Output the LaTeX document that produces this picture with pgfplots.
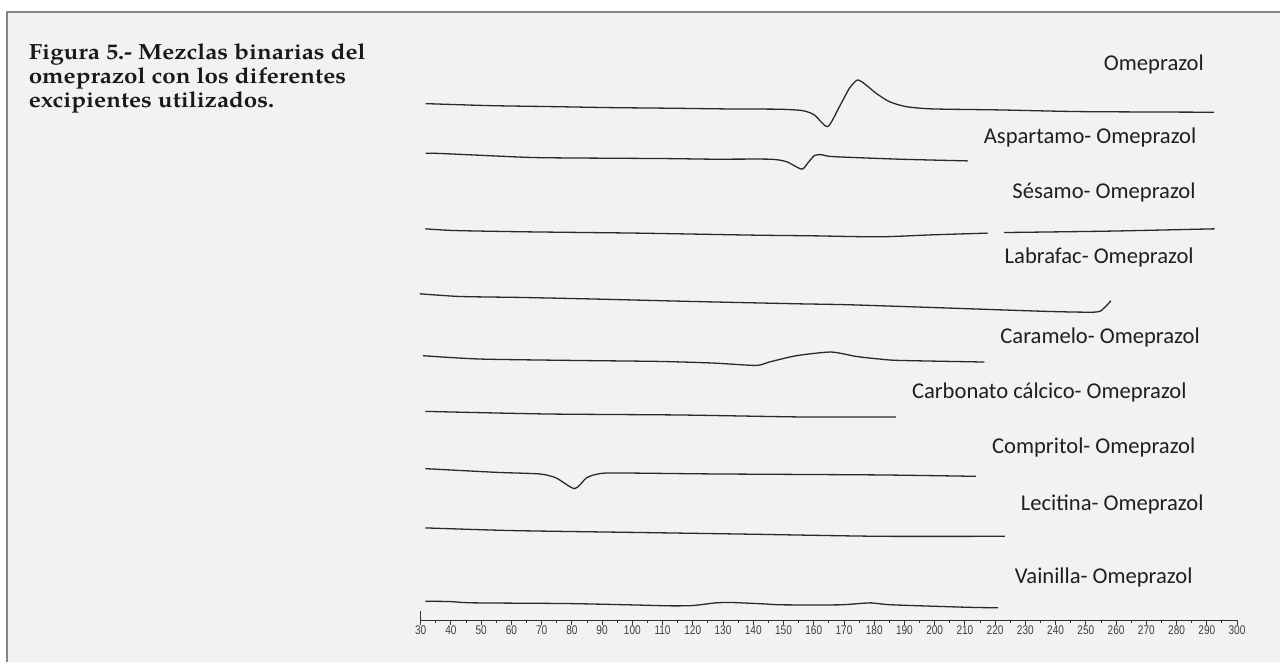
\documentclass[border=0pt]{standalone}
\usepackage{fontspec}
\usepackage{pgfplots}
\pgfplotsset{compat=1.18}
\setmainfont{Carlito}
\newfontfamily\titlefont[FakeStretch=1.1]{texgyrepagella-bold.otf}
\newfontfamily\tickfont[FakeStretch=0.8]{Liberation Sans}
\definecolor{framebg}{HTML}{F1F2F4}
\definecolor{framegray}{HTML}{858585}
\definecolor{curve}{HTML}{2A2A2A}
\tikzset{lbl/.style={anchor=base, font=\fontsize{11.3}{13}\selectfont, text=black!88},
         ttl/.style={anchor=base west, inner sep=0pt, font=\titlefont\fontsize{11}{13}\selectfont, text=black!90}}
\pgfplotsset{trace/.style={curve, solid, line width=0.65pt, no markers, smooth, tension=0.4, line join=round}}

\begin{document}
\begin{tikzpicture}
% 1 px of the reference = 0.5pt, y counted down from the top edge
\fill[white] (0,0) rectangle (640.5pt,-331.5pt);
\fill[framebg] (3.5pt,-6pt) rectangle (640.5pt,-331.5pt);
\draw[framegray, line width=1pt] (3.5pt,-331.5pt) -- (3.5pt,-6pt) -- (640.5pt,-6pt);
\node[ttl] at (14.2pt,-29.8pt) {Figura 5.- Mezclas binarias del};
\node[ttl] at (14.2pt,-41.8pt) {omeprazol con los diferentes};
\node[ttl] at (14.2pt,-53.8pt) {excipientes utilizados.};

% curves: x = temperature, y = trace height (px from top of the figure)
\begin{axis}[at={(0pt,-331.5pt)}, anchor=south west, scale only axis,
    width=640.5pt, height=331.5pt,
    xmin=-109.13, xmax=314.21, ymin=0, ymax=663, y dir=reverse,
    hide axis, clip=false]

% Omeprazol
\addplot[trace] coordinates {(31.65,103.7) (52.8,105.7) (73.7,106.7) (93.0,107.7) (112.9,108.3) (131.0,109) (148.6,109.3) (156.3,110.7) (160.2,115) (164.6,126.7) (168.5,106.7) (171.8,88.3) (174.5,80) (177.3,85) (180.6,93.3) (185.0,101.7) (190.5,106.7) (199.3,109) (221.4,110) (248.9,111.7) (292.4,112.3)};
% Aspartamo
\addplot[trace] coordinates {(31.65,153.3) (37.4,153.7) (63.8,157.3) (75.9,158) (111.2,158.7) (126.6,159.3) (145.3,159.3) (150.9,161.7) (156.0,169.3) (158.0,163.3) (160.2,155.7) (162.4,154.7) (166.3,156.7) (188.3,159.3) (210.9,161)};
% Sesamo (two segments)
\addplot[trace] coordinates {(31.55,229) (41.2,230.7) (64.9,232) (101.8,233.3) (139.8,235.3) (159.7,236) (181.7,237) (199.3,235) (217.5,233.3)};
\addplot[trace] coordinates {(223.0,232.7) (257.7,231.3) (292.6,229)};
% Labrafac
\addplot[trace] coordinates {(29.7,294) (42.9,296.7) (63.8,297.7) (88.1,299.3) (120.0,301.7) (154.2,304) (171.8,305) (204.8,308.3) (237.9,311.7) (253.3,312.3) (256.0,308.3) (258.3,301)};
% Caramelo
\addplot[trace] coordinates {(30.8,356) (49.5,359.3) (80.3,360.7) (109.0,361.7) (126.6,363.3) (140.9,365.7) (145.3,362.3) (154.2,356) (165.7,352.3) (174.0,356.7) (181.7,359.3) (188.3,360.7) (216.4,362.3)};
% Carbonato calcico
\addplot[trace] coordinates {(31.55,411.7) (71.5,414.3) (115.6,415.3) (156.4,417.3) (187.2,417.3)};
% Compritol
\addplot[trace] coordinates {(31.55,469) (55.0,472.7) (69.3,474.3) (74.8,478.3) (80.9,489) (84.8,478.3) (88.1,474.7) (93.6,473.3) (126.6,474.3) (181.7,475.3) (213.6,476.7)};
% Lecitina
\addplot[trace] coordinates {(31.55,528.3) (60.5,531) (104.6,533) (140.9,534.7) (181.7,536.7) (223.2,536.7)};
% Vainilla
\addplot[trace] coordinates {(31.55,601.7) (39.6,602) (47.3,603.3) (78.2,604) (99.1,605.3) (112.3,606.3) (120.0,606) (127.7,603.3) (133.2,603) (143.1,604.3) (149.8,605.3) (168.5,605.3) (176.2,603.7) (178.9,603.3) (186.1,605.3) (210.3,607.7) (221.0,608.3)};

\node[lbl] at (axis cs:272.5,70.7) {Omeprazol};
\node[lbl] at (axis cs:251.4,143.7) {Aspartamo- Omeprazol};
\node[lbl] at (axis cs:256.0,198.5) {Sésamo- Omeprazol};
\node[lbl] at (axis cs:254.4,263.3) {Labrafac- Omeprazol};
\node[lbl] at (axis cs:254.7,343.3) {Caramelo- Omeprazol};
\node[lbl] at (axis cs:237.9,399) {Carbonato cálcico- Omeprazol};
\node[lbl] at (axis cs:252.6,454.3) {Compritol- Omeprazol};
\node[lbl] at (axis cs:258.7,511) {Lecitina- Omeprazol};
\node[lbl] at (axis cs:255.9,584) {Vainilla- Omeprazol};
\end{axis}

% temperature axis
\begin{axis}[at={(210.5pt,-310.35pt)}, anchor=south west, scale only axis,
    width=408.5pt, height=4.5pt,
    xmin=30, xmax=300, ymin=0, ymax=1,
    axis x line=bottom, axis y line=left,
    axis line style={-, black!80, line width=0.55pt},
    xtick={30,40,...,300}, minor x tick num=1, ytick=\empty,
    tick align=outside, major tick length=2.4pt, minor tick length=1.3pt,
    tick style={black!80, line width=0.45pt},
    xticklabel style={font=\tickfont\fontsize{6.3}{7}\selectfont, text=black!75, inner sep=0pt},
    /pgf/number format/assume math mode=true]
\end{axis}
\end{tikzpicture}
\end{document}
